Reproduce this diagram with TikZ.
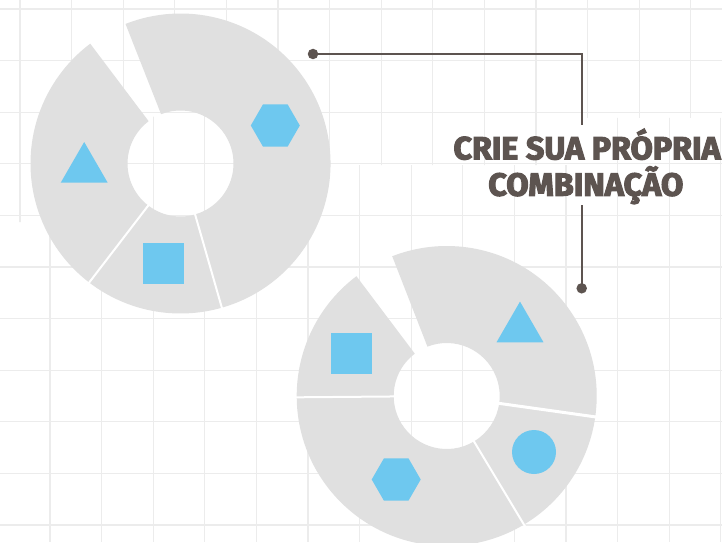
\documentclass[tikz,border=0pt]{standalone}
\usepackage{fontspec}
\usepackage{graphicx}
\usetikzlibrary{shapes.geometric,calc}
\newfontfamily\headfont{Fira Sans}[FakeBold=3.5]
\definecolor{gridc}{RGB}{236,236,236}
\definecolor{donutc}{RGB}{224,224,224}
\definecolor{bluec}{RGB}{110,200,239}
\definecolor{linec}{RGB}{93,84,80}
\tikzset{
  gridline/.style={draw=gridc, line width=1.3pt},
  sepline/.style={draw=white, line width=2pt},
  conn/.style={draw=linec, line width=2.3pt},
  dotnode/.style={circle, fill=linec, inner sep=0pt, minimum size=10.5pt},
  blueshape/.style={fill=bluec, inner sep=0pt, draw=none},
  hexnode/.style={blueshape, regular polygon, regular polygon sides=6, minimum size=49pt},
  trinode/.style={blueshape, regular polygon, regular polygon sides=3, minimum size=54.2pt},
  sqnode/.style={blueshape, rectangle, minimum size=41.3pt},
  dotblue/.style={blueshape, circle, minimum size=44pt},
  titletext/.style={anchor=base, inner sep=0pt, text=linec}
}
\newcommand{\donutseg}[3]{%
  \fill[donutc] ($(#1)+(#2:150)$) arc[start angle=#2, end angle=#3, radius=150]
    -- ($(#1)+(#3:53)$) arc[start angle=#3, end angle=#2, radius=53] -- cycle;}
\newcommand{\donutsep}[3][2pt]{%
  \draw[sepline, line width=#1] ($(#2)+(#3:50)$) -- ($(#2)+(#3:153)$);}
\newcommand{\vgridA}{\foreach \k in {0,...,13}{\draw[gridline] ({20+51.6*\k},0) -- ({20+51.6*\k},542);}}
\newcommand{\vgridB}{\foreach \k in {0,...,13}{\draw[gridline] ({50+51.6*\k},0) -- ({50+51.6*\k},542);}}
\newcommand{\hgrid}{\foreach \k in {0,...,10}{\draw[gridline] (0,{533-51.6*\k}) -- (722,{533-51.6*\k});}}
\begin{document}
\begin{tikzpicture}[x=1pt, y=1pt]
\useasboundingbox (0,0) rectangle (722,542);
\fill[white] (0,0) rectangle (722,542);
% grid patches
\begin{scope}
  \clip (0,542) -- (722,542) -- (722,424) -- (580,424) -- (580,377) -- (40,377) -- (40,320) -- (0,320) -- cycle;
  \vgridA
\end{scope}
\begin{scope}
  \clip (0,0) -- (722,0) -- (722,424) -- (580,424) -- (580,377) -- (40,377) -- (40,320) -- (0,320) -- cycle;
  \vgridB
\end{scope}
\hgrid
\coordinate (d1) at (180.5,378.5);
\coordinate (d2) at (446.7,146);
\begin{scope}
  \clip (d1) circle[radius=54];
  \fill[white] (d1) circle[radius=54];
  \vgridB
  \hgrid
\end{scope}
% donut 1
\donutseg{d1}{127}{232.5}
\donutseg{d1}{232.5}{286}
\donutseg{d1}{286}{471.5}
\donutsep{d1}{232.5}
\donutsep{d1}{286}
% donut 2
\donutseg{d2}{-8}{111.3}
\donutseg{d2}{127}{180.5}
\donutseg{d2}{180.5}{301}
\donutseg{d2}{301}{352}
\donutsep{d2}{180.5}
\donutsep{d2}{301}
\donutsep[3pt]{d2}{352}
% blue shapes, donut 1
\node[hexnode] (hex1) at (275.3,416.5) {};
\node[trinode] (tri1) at (84.2,372.9) {};
\node[sqnode] (sq1) at (163.3,278.7) {};
% blue shapes, donut 2
\node[trinode] (tri2) at (520,213.3) {};
\node[sqnode] (sq2) at (351.3,188.7) {};
\node[dotblue] (circ2) at (534,90) {};
\node[hexnode] (hex2) at (396.2,62.5) {};
% title
\node[titletext] (title1) at (587,382.7) {\resizebox{267pt}{\height}{\headfont\bfseries\fontsize{32}{32}\selectfont CRIE SUA PRÓPRIA}};
\node[titletext] (title2) at (585.8,346.3) {\resizebox{195pt}{\height}{\headfont\bfseries\fontsize{32}{32}\selectfont COMBINAÇÃO}};
% connectors
\node[dotnode] (dot1) at (313,488) {};
\node[dotnode] (dot2) at (581.7,253.7) {};
\coordinate (corner) at (581.7,488);
\coordinate (end1) at (581.7,417);
\coordinate (start2) at (581.7,337);
\draw[conn] (dot1.center) -- (corner) -- (end1);
\draw[conn] (start2) -- (dot2.center);
\end{tikzpicture}
\end{document}
